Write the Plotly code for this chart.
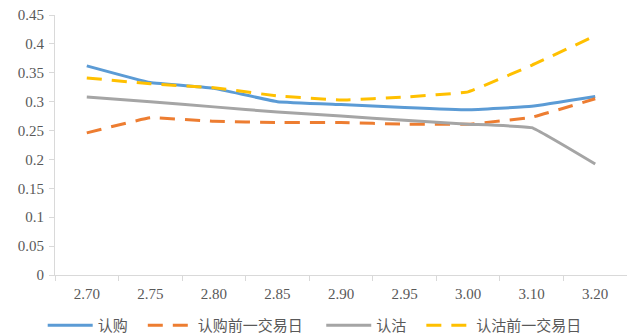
import plotly.graph_objects as go

# Strike prices (category axis)
strikes = ["2.70", "2.75", "2.80", "2.85", "2.90", "2.95", "3.00", "3.10", "3.20"]

# Implied volatility by strike
call_iv = [0.362, 0.333, 0.323, 0.300, 0.295, 0.290, 0.286, 0.292, 0.309]
call_iv_prev = [0.246, 0.272, 0.266, 0.264, 0.264, 0.261, 0.261, 0.273, 0.305]
put_iv = [0.308, 0.300, 0.291, 0.282, 0.275, 0.268, 0.261, 0.255, 0.192]
put_iv_prev = [0.341, 0.331, 0.324, 0.310, 0.303, 0.308, 0.317, 0.363, 0.414]

y_ticks = [0, 0.05, 0.1, 0.15, 0.2, 0.25, 0.3, 0.35, 0.4, 0.45]
y_tick_text = ["0", "0.05", "0.1", "0.15", "0.2", "0.25", "0.3", "0.35", "0.4", "0.45"]

# name, values, colour, dash, trailing legend spacing
series = [
    ("认购", call_iv, "#5b9bd5", "solid", 3),
    ("认购前一交易日", call_iv_prev, "#ed7d31", "15px,10px", 4),
    ("认沽", put_iv, "#a5a5a5", "solid", 3),
    ("认沽前一交易日", put_iv_prev, "#ffc000", "15px,10px", 3),
]

fig = go.Figure()
for name, vals, color, dash, pad in series:
    fig.add_trace(go.Scatter(
        x=strikes, y=vals, name=name + "\u00a0" * pad, mode="lines",
        line=dict(color=color, width=3, dash=dash, shape="spline", smoothing=0.25),
    ))

tick_font = dict(family="Liberation Serif, Times New Roman, serif", size=15, color="#595959")

fig.update_layout(
    width=627, height=336,
    margin=dict(l=55, r=0, t=15, b=61, autoexpand=False),
    paper_bgcolor="white", plot_bgcolor="white",
    font=dict(family="Liberation Serif, serif", size=14, color="#595959"),
    showlegend=True,
    legend=dict(
        orientation="h", x=-0.0215, xanchor="left",
        y=-67 / 260, yanchor="bottom",
        font=dict(family="Noto Sans CJK SC", size=15, color="#595959"),
        itemwidth=45, tracegroupgap=0,
    ),
    xaxis=dict(
        type="category", tickson="boundaries", range=[-0.5, 8.5],
        showline=True, linecolor="#d9d9d9", linewidth=1,
        ticks="outside", tickcolor="#d9d9d9", ticklen=5,
        showgrid=False, zeroline=False,
        tickfont=tick_font, ticklabelstandoff=5,
    ),
    yaxis=dict(
        range=[0, 0.45], tickvals=y_ticks, ticktext=y_tick_text,
        showline=True, linecolor="#d9d9d9", linewidth=1,
        ticks="outside", tickcolor="#d9d9d9", ticklen=5,
        showgrid=False, zeroline=False,
        tickfont=tick_font, ticklabelstandoff=2,
    ),
)

fig.write_html("out.html")
